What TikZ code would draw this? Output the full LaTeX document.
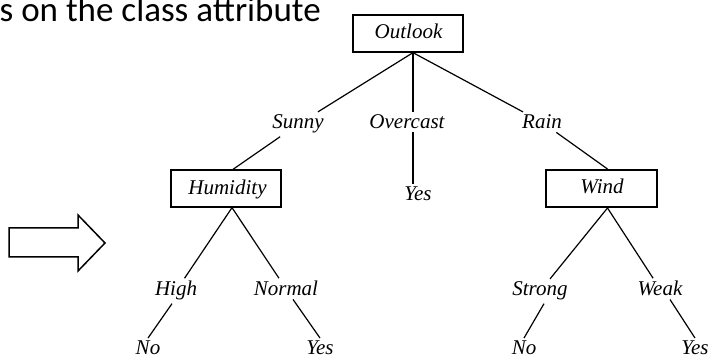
\documentclass[tikz,border=0pt]{standalone}
\usepackage{fontspec}
\setmainfont{Liberation Serif}
\newfontfamily\calib{Carlito}
\begin{document}
\begin{tikzpicture}[x=1pt,y=-1pt,
  attrbox/.style={draw,line width=1.3pt,minimum width=110pt,minimum height=37pt,inner sep=0pt},
  lbl/.style={inner sep=3pt,font=\fontsize{21}{25}\selectfont\itshape,anchor=base},
  edge/.style={line width=1.2pt}]
\useasboundingbox (0,0) rectangle (713,358);
\clip (0,0) rectangle (713,358);
% heading fragment
\node[anchor=base east,inner sep=0pt,font=\calib\fontsize{35}{40}\selectfont] (head) at (321,22) {s on the class attribute};
% block arrow
\draw[line width=1.5pt,line join=miter] (9,228) -- (78,228) -- (78,215) -- (105,243) -- (78,271) -- (78,257) -- (9,257) -- cycle;
% boxes
\node[attrbox] (o) at (408,33.5) {};
\node[lbl] (ot) at (408.5,39) {Outlook};
\node[attrbox] (h) at (226,188.5) {};
\node[lbl] (ht) at (227.5,195) {Humidity};
\node[attrbox,line width=2pt,minimum width=111pt] (w) at (601.5,188.5) {};
\node[lbl] (wt) at (602,194) {Wind};
% labels
\node[lbl] (sunny) at (298,129) {Sunny};
\node[lbl] (over) at (407,129) {Overcast};
\node[lbl] (rain) at (542,129) {Rain};
\node[lbl] (y1) at (418,201) {Yes};
\node[lbl] (high) at (176,296) {High};
\node[lbl] (normal) at (286,296) {Normal};
\node[lbl] (strong) at (540,296) {Strong};
\node[lbl] (weak) at (660,296) {Weak};
\node[lbl] (n1) at (148,355) {No};
\node[lbl] (y2) at (320,355) {Yes};
\node[lbl] (n2) at (524,355) {No};
\node[lbl] (y3) at (695,355) {Yes};
% edges
\draw[edge] ([xshift=5pt]o.south) -- (sunny);
\draw[edge,line width=1.6pt] ([xshift=5pt]o.south) -- ([xshift=6pt]over.north);
\draw[edge] ([xshift=5pt]o.south) -- (rain);
\draw[edge] (sunny) -- ([xshift=7pt]h.north);
\draw[edge,line width=1.6pt] ([xshift=6pt]over.south) -- ([xshift=-5pt]y1.north);
\draw[edge] (rain) -- ([xshift=6pt]w.north);
\draw[edge] ([xshift=6pt]h.south) -- (high);
\draw[edge] ([xshift=6pt]h.south) -- (normal);
\draw[edge] ([xshift=6pt]w.south) -- (strong);
\draw[edge] ([xshift=6pt]w.south) -- (weak);
\draw[edge] ([xshift=-4pt]high.south) -- (n1.north);
\draw[edge] ([xshift=7pt]normal.south) -- (y2.north);
\draw[edge] ([xshift=4pt]strong.south) -- (n2.north);
\draw[edge] ([xshift=10pt]weak.south) -- (y3.north);
\end{tikzpicture}
\end{document}
